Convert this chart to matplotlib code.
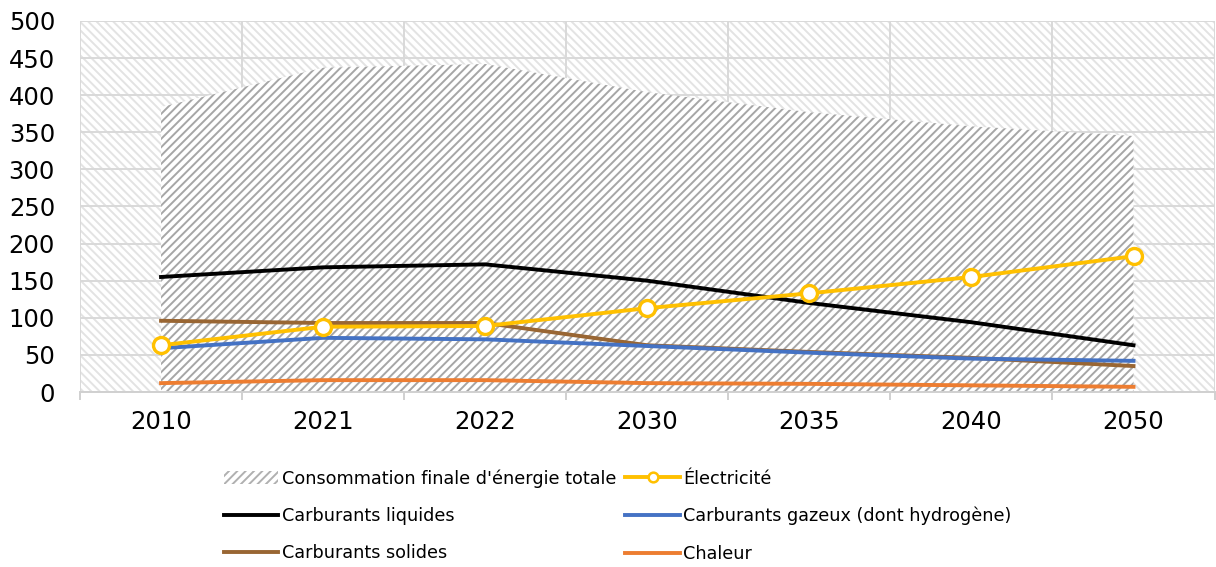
import matplotlib
matplotlib.use("Agg")
import matplotlib.pyplot as plt
from matplotlib.patches import Patch
from matplotlib.lines import Line2D
import numpy as np

plt.rcParams['font.family'] = ['DejaVu Sans']
plt.rcParams['hatch.linewidth'] = 1.4

annees = ['2010', '2021', '2022', '2030', '2035', '2040', '2050']
total = [384, 437, 442, 404, 377, 358, 345]
electricite = [63, 88, 89, 113, 133, 155, 183]
liquides = [155, 168, 172, 150, 120, 94, 63]
gazeux = [59, 73, 71, 62, 53, 45, 42]
solides = [96, 93, 93, 63, 54, 46, 35]
chaleur = [12, 16, 16, 12, 11, 9, 7]

fig = plt.figure(figsize=(12.16, 5.67), dpi=100)
ax = fig.add_axes([0.0658, 0.3086, 0.933, 0.6545])
x = np.arange(len(annees))

# fond hachuré de la zone de tracé
ax.patch.set_facecolor('white')
ax.patch.set_hatch('\\\\\\\\')
ax.patch.set_edgecolor('#e3e3e3')
ax.patch.set_linewidth(0)

# consommation totale en aire hachurée
ax.fill_between(x, 0, total, facecolor='white', edgecolor='#a6a6a6',
                hatch='////', linewidth=0, zorder=2)

lw = 2.8
ax.plot(x, liquides, color='black', lw=lw, zorder=3)
ax.plot(x, solides, color='#996633', lw=lw, zorder=3)
ax.plot(x, gazeux, color='#4472C4', lw=lw, zorder=3)
ax.plot(x, chaleur, color='#ED7D31', lw=lw, zorder=3)
ax.plot(x, electricite, color='#FFC000', lw=lw, marker='o', markersize=11.5,
        markerfacecolor='white', markeredgewidth=2.4, zorder=4)

ax.set_xlim(-0.5, len(annees) - 0.5)
ax.set_ylim(0, 500)
ax.set_yticks(range(0, 501, 50))
ax.set_xticks(x)
ax.set_xticklabels(annees)
ax.set_xticks(np.arange(-0.5, len(annees), 1), minor=True)

ax.grid(axis='y', color='#d9d9d9', lw=1.4, zorder=1)
ax.grid(axis='x', which='minor', color='#d9d9d9', lw=1.4, zorder=1)
ax.set_axisbelow(True)

for s in ['top', 'right', 'left']:
    ax.spines[s].set_visible(False)
ax.spines['bottom'].set_color('#d0d0d0')
ax.spines['bottom'].set_linewidth(1.4)

ax.tick_params(axis='x', which='major', length=0, labelsize=17.5, pad=13)
ax.tick_params(axis='x', which='minor', length=6, width=1.4, color='#d0d0d0')
ax.tick_params(axis='y', length=0, labelsize=17.5, pad=18)

handles = [
    Patch(facecolor='white', edgecolor='#b0b0b0', hatch='////', linewidth=0),
    Line2D([], [], color='black', lw=lw),
    Line2D([], [], color='#996633', lw=lw),
    Line2D([], [], color='#FFC000', lw=lw, marker='o', markersize=7,
           markerfacecolor='white', markeredgewidth=1.8),
    Line2D([], [], color='#4472C4', lw=lw),
    Line2D([], [], color='#ED7D31', lw=lw),
]
labels = ["Consommation finale d'énergie totale", 'Carburants liquides',
          'Carburants solides', 'Électricité',
          'Carburants gazeux (dont hydrogène)', 'Chaleur']
fig.legend(handles, labels, ncol=2, loc='center', bbox_to_anchor=(0.508, 0.09),
           frameon=False, fontsize=12.7, handlelength=3.1, handleheight=0.75,
           handletextpad=0.2, columnspacing=0.5, labelspacing=1.1)

fig.savefig('out.png', dpi=100)
